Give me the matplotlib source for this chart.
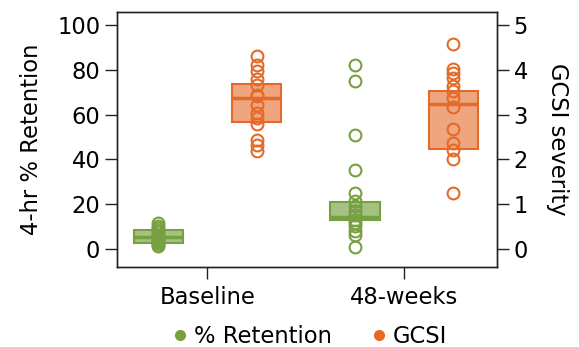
import matplotlib
matplotlib.use('Agg')
import matplotlib.pyplot as plt
from matplotlib.lines import Line2D

plt.rcParams['font.family'] = ['DejaVu Sans']

groups = ['Baseline', '48-weeks']

# % retention (left axis)
ret_base = [11.5, 10.5, 9.5, 8.5, 7.5, 6.5, 6, 5.5, 5, 4.5, 4, 3.5, 3, 2.5, 2, 1.5]
ret_48 = [82, 74.8, 50.7, 35.1, 25.2, 21.5, 19.3, 17, 15, 13, 11.5, 10.4, 8.1, 6.4, 0.8]
ret_lo = [2.9, 12.9]
ret_hi = [8.6, 21.0]
ret_mid = [5.6, 14.5]

# GCSI severity (right axis)
gcsi_base = [4.3, 4.11, 3.98, 3.8, 3.67, 3.44, 3.41, 3.22, 3.04, 2.93, 2.8, 2.44, 2.32, 2.18]
gcsi_48 = [4.58, 4.02, 3.93, 3.81, 3.63, 3.52, 3.37, 3.18, 2.67, 2.37, 2.21, 2.01, 1.26]
gcsi_lo = [2.84, 2.24]
gcsi_hi = [3.68, 3.52]
gcsi_mid = [3.36, 3.24]

green = '#77a043'
orange = '#e56a28'
fs = 16.3

fig = plt.figure(figsize=(5.79, 3.47), dpi=100)
ax = fig.add_axes([0.202, 0.2305, 0.656, 0.735])
ax2 = ax.twinx()

off = 0.25
w = 0.25
xs = [0, 1]

for i, pts in enumerate([ret_base, ret_48]):
    x = xs[i] - off
    ax.bar(x, ret_hi[i] - ret_lo[i], bottom=ret_lo[i], width=w,
           facecolor=green, alpha=0.65, edgecolor='none', zorder=2)
    ax.bar(x, ret_hi[i] - ret_lo[i], bottom=ret_lo[i], width=w,
           facecolor='none', edgecolor=green, lw=1.5, zorder=3)
    ax.plot([x - w / 2, x + w / 2], [ret_mid[i]] * 2, color=green, lw=2.5,
            solid_capstyle='butt', zorder=3)
    ax.plot([x] * len(pts), pts, 'o', mfc='none', mec=green, ms=8.5, mew=1.5, zorder=4)

for i, pts in enumerate([gcsi_base, gcsi_48]):
    x = xs[i] + off
    ax2.bar(x, gcsi_hi[i] - gcsi_lo[i], bottom=gcsi_lo[i], width=w,
            facecolor=orange, alpha=0.6, edgecolor='none', zorder=2)
    ax2.bar(x, gcsi_hi[i] - gcsi_lo[i], bottom=gcsi_lo[i], width=w,
            facecolor='none', edgecolor=orange, lw=1.5, zorder=3)
    ax2.plot([x - w / 2, x + w / 2], [gcsi_mid[i]] * 2, color=orange, lw=2.5,
             solid_capstyle='butt', zorder=3)
    ax2.plot([x] * len(pts), pts, 'o', mfc='none', mec=orange, ms=8.5, mew=1.5, zorder=4)

ax.set_xlim(-0.46, 1.47)
ax.set_ylim(-8.0, 105.8)
ax2.set_ylim(-0.40, 5.29)
ax.set_yticks([0, 20, 40, 60, 80, 100])
ax2.set_yticks([0, 1, 2, 3, 4, 5])
ax.set_xticks(xs)
ax.set_xticklabels(groups)

for a in (ax, ax2):
    a.tick_params(labelsize=fs, length=8.5, width=1, color='#222222')
    for s in a.spines.values():
        s.set_linewidth(1)
        s.set_color('#222222')
ax.tick_params(axis='x', pad=5)

ax.set_ylabel('4-hr % Retention', fontsize=fs, labelpad=10)
ax2.set_ylabel('GCSI severity', fontsize=fs, rotation=270, labelpad=30)

handles = [Line2D([], [], ls='none', marker='o', color=green, ms=7),
           Line2D([], [], ls='none', marker='o', color=orange, ms=7)]
fig.legend(handles, ['% Retention', 'GCSI'], loc='center', bbox_to_anchor=(0.532, 0.03),
           ncol=2, frameon=False, fontsize=fs, handletextpad=0.1, columnspacing=1.6,
           handlelength=1.0)

fig.savefig('out.png', dpi=100)
